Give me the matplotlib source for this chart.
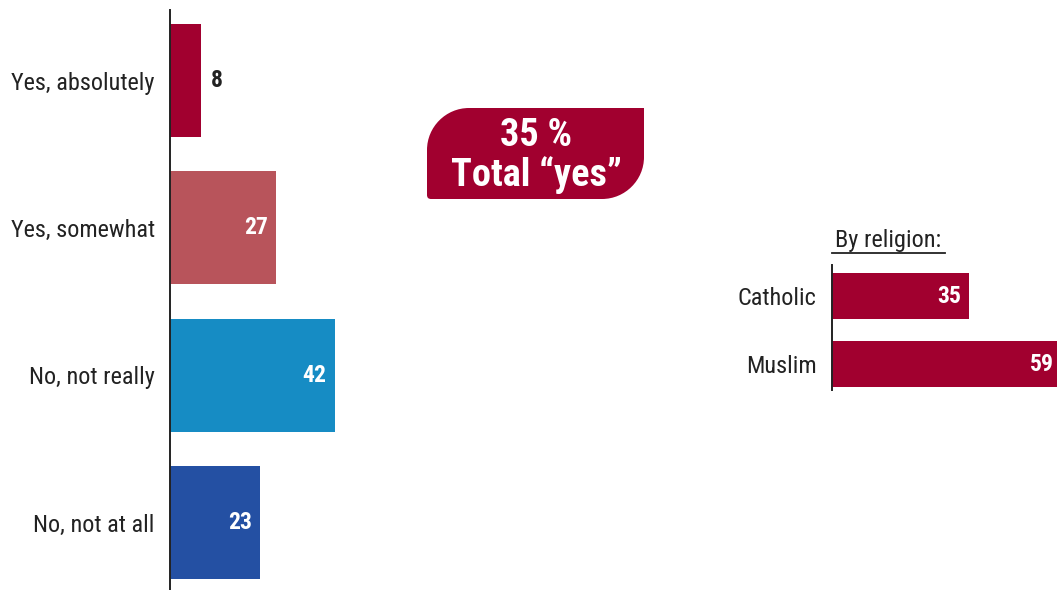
import matplotlib.pyplot as plt
from matplotlib.path import Path
from matplotlib.patches import PathPatch

answers = ["Yes, absolutely", "Yes, somewhat", "No, not really", "No, not at all"]
answer_values = [8, 27, 42, 23]
answer_colors = ["#A1002F", "#B8545B", "#168CC4", "#2450A3"]

religions = ["Catholic", "Muslim"]
religion_values = [35, 59]
religion_color = "#A1002F"

total_yes = 35

plt.rcParams["font.family"] = ["Roboto Condensed", "DejaVu Sans"]
TEXT = "#222222"
SCALE = 3.92  # pixels per percentage point

W, H = 1057, 590
fig = plt.figure(figsize=(W / 100, H / 100), dpi=100)


def fx(px):
    return px / W


def fy(py):
    return 1 - py / H


def style_axis(a):
    a.set_xticks([])
    a.tick_params(axis="y", length=0, pad=11)
    for s in ["top", "right", "bottom"]:
        a.spines[s].set_visible(False)
    a.spines["left"].set_linewidth(1.4)
    a.spines["left"].set_color(TEXT)
    for lab in a.get_yticklabels():
        lab.set_fontsize(17.5)
        lab.set_color(TEXT)
        lab.set_fontweight("normal")


# main question bars
ax = fig.add_axes([fx(170), 0, fx(230), fy(10)])
ypos = list(range(len(answers)))
ax.barh(ypos, answer_values, height=0.767, color=answer_colors)
ax.set_xlim(0, 230 / SCALE)
ax.set_ylim(3.458, -0.479)
ax.set_yticks(ypos)
ax.set_yticklabels(answers)
style_axis(ax)
for i, v in enumerate(answer_values):
    if v < 12:
        ax.annotate(str(v), (v, i), xytext=(6.5, 0), textcoords="offset points",
                    ha="left", va="center", fontsize=17, fontweight="bold",
                    color=TEXT)
    else:
        ax.annotate(str(v), (v, i), xytext=(-6, 0), textcoords="offset points",
                    ha="right", va="center", fontsize=17, fontweight="bold",
                    color="white")

# by-religion bars
ax2 = fig.add_axes([fx(832), fy(390), fx(225), fy(265) - fy(390)])
rpos = list(range(len(religions)))
xmax2 = 225 / SCALE
ax2.barh(rpos, religion_values, height=0.676, color=religion_color)
ax2.set_xlim(0, xmax2)
ax2.set_ylim(1.382, -0.456)
ax2.set_yticks(rpos)
ax2.set_yticklabels(religions)
style_axis(ax2)
for i, v in enumerate(religion_values):
    ax2.annotate(str(v), (min(v, xmax2), i), xytext=(-6 if v < xmax2 else -2, 0),
                 textcoords="offset points", ha="right", va="center",
                 fontsize=17, fontweight="bold", color="white",
                 annotation_clip=False)
fig.text(fx(888), fy(241), "By religion:", ha="center", va="center",
         fontsize=17.5, color=TEXT)
fig.add_artist(plt.Line2D([fx(832), fx(945)], [fy(253), fy(253)],
                          color=TEXT, lw=1.3))

# total "yes" badge, rounded top-left and bottom-right
x0, x1, y0, y1, r = 427, 644, 108, 199, 42
k = 0.55
pts = [
    (x0, y1 - 4), (x0, y0 + r),
    (x0, y0 + r - k * r), (x0 + r - k * r, y0), (x0 + r, y0),
    (x1, y0), (x1, y1 - r),
    (x1, y1 - r + k * r), (x1 - r + k * r, y1), (x1 - r, y1),
    (x0 + 4, y1), (x0, y1), (x0, y1 - 4), (x0, y1 - 4),
]
codes = [Path.MOVETO, Path.LINETO,
         Path.CURVE4, Path.CURVE4, Path.CURVE4,
         Path.LINETO, Path.LINETO,
         Path.CURVE4, Path.CURVE4, Path.CURVE4,
         Path.LINETO, Path.CURVE3, Path.CURVE3, Path.CLOSEPOLY]
badge = Path([(fx(px), fy(py)) for px, py in pts], codes)
fig.add_artist(PathPatch(badge, facecolor=religion_color, edgecolor="none",
                         transform=fig.transFigure))
fig.text(fx(536), fy(136), f"{total_yes} %", ha="center", va="center",
         fontsize=27.5, fontweight="bold", color="white")
fig.text(fx(536), fy(175), "Total \u201cyes\u201d", ha="center", va="center",
         fontsize=27.5, fontweight="bold", color="white")

fig.savefig("out.png", dpi=100)
